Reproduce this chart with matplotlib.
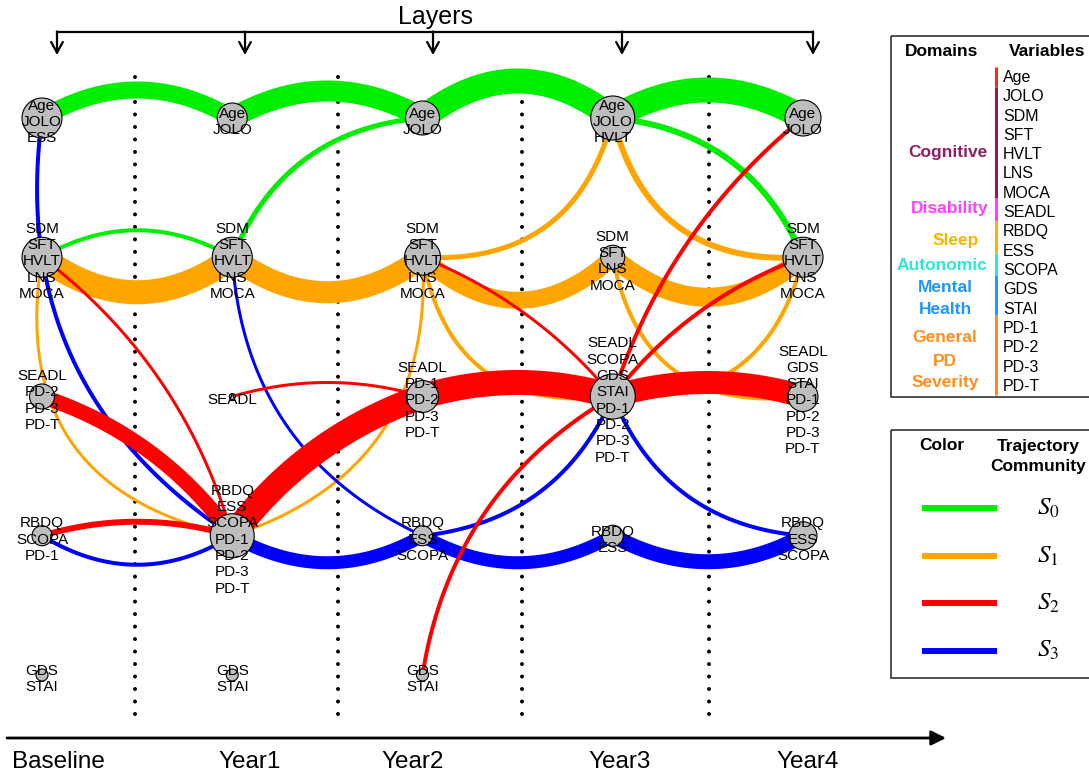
import numpy as np
import matplotlib.pyplot as plt
from matplotlib.patches import Rectangle

plt.rcParams['font.family'] = ['Liberation Sans', 'DejaVu Sans']
plt.rcParams['mathtext.fontset'] = 'stix'

# time layers and trajectory communities
layer_names = ['Baseline', 'Year1', 'Year2', 'Year3', 'Year4']
community_names = ['$S_0$', '$S_1$', '$S_2$', '$S_3$']
community_colors = ['#00ee00', '#ffa500', '#ff0000', '#0000ff']

# nodes: layer index, row index, size and the variables grouped in each node
node_layer = [0, 0, 0, 0, 0, 1, 1, 1, 1, 1, 2, 2, 2, 2, 2, 3, 3, 3, 3, 4, 4, 4, 4]
node_row = [0, 1, 2, 3, 4, 0, 1, 2, 3, 4, 0, 1, 2, 3, 4, 0, 1, 2, 3, 0, 1, 2, 3]
node_size = [20, 20, 12.5, 10, 6, 15, 20, 3, 22, 6, 17, 18, 16, 10, 6,
             22, 12, 22.5, 10.5, 18, 20, 15, 14]
node_vars = [
    ['Age', 'JOLO', 'ESS'],
    ['SDM', 'SFT', 'HVLT', 'LNS', 'MOCA'],
    ['SEADL', 'PD-2', 'PD-3', 'PD-T'],
    ['RBDQ', 'SCOPA', 'PD-1'],
    ['GDS', 'STAI'],
    ['Age', 'JOLO'],
    ['SDM', 'SFT', 'HVLT', 'LNS', 'MOCA'],
    ['SEADL'],
    ['RBDQ', 'ESS', 'SCOPA', 'PD-1', 'PD-2', 'PD-3', 'PD-T'],
    ['GDS', 'STAI'],
    ['Age', 'JOLO'],
    ['SDM', 'SFT', 'HVLT', 'LNS', 'MOCA'],
    ['SEADL', 'PD-1', 'PD-2', 'PD-3', 'PD-T'],
    ['RBDQ', 'ESS', 'SCOPA'],
    ['GDS', 'STAI'],
    ['Age', 'JOLO', 'HVLT'],
    ['SDM', 'SFT', 'LNS', 'MOCA'],
    ['SEADL', 'SCOPA', 'GDS', 'STAI', 'PD-1', 'PD-2', 'PD-3', 'PD-T'],
    ['RBDQ', 'ESS'],
    ['Age', 'JOLO'],
    ['SDM', 'SFT', 'HVLT', 'LNS', 'MOCA'],
    ['SEADL', 'GDS', 'STAI', 'PD-1', 'PD-2', 'PD-3', 'PD-T'],
    ['RBDQ', 'ESS', 'SCOPA'],
]

# edges between nodes (layer, row), community and weight
edge_from = [(0, 0), (1, 0), (2, 0), (3, 0), (0, 1), (1, 1), (3, 0),
             (0, 1), (1, 1), (2, 1), (3, 1), (0, 1), (1, 3), (2, 1), (3, 0),
             (2, 1), (3, 1), (3, 2), (2, 2), (3, 2),
             (0, 0), (0, 3), (1, 1), (1, 3), (2, 3), (3, 3), (2, 3), (3, 2),
             (0, 2), (0, 1), (0, 3), (1, 2), (1, 3), (2, 2), (3, 2), (2, 1),
             (2, 4), (3, 2), (3, 2)]
edge_to = [(1, 0), (2, 0), (3, 0), (4, 0), (1, 1), (2, 0), (4, 1),
           (1, 1), (2, 1), (3, 1), (4, 1), (1, 3), (2, 1), (3, 0), (4, 1),
           (3, 2), (4, 2), (4, 1), (3, 2), (4, 2),
           (1, 3), (1, 3), (2, 3), (2, 3), (3, 3), (4, 3), (3, 2), (4, 3),
           (1, 3), (1, 3), (1, 3), (2, 2), (2, 2), (3, 2), (4, 2), (3, 2),
           (3, 2), (4, 0), (4, 1)]
edge_comm = [0, 0, 0, 0, 0, 0, 0,
             1, 1, 1, 1, 1, 1, 1, 1, 1, 1, 1, 1, 1,
             3, 3, 3, 3, 3, 3, 3, 3,
             2, 2, 2, 2, 2, 2, 2, 2, 2, 2, 2]
edge_weight = [17, 21, 25, 25, 4, 5, 6,
               24, 22, 17, 19, 3, 3, 5, 6, 4, 4, 4, 4, 4,
               4, 4, 3, 13, 13, 15, 4, 4,
               15, 3, 6, 3, 25, 25, 23, 3, 4, 4, 4]
# arc sag of each edge (pixels, positive = bulge to the left of travel)
edge_bend = [28, 27, 37, 28, 27, 36, 35,
             -35, -35, -43, -40, -80, -65, -48, -49, -55, -55, -50, 9, 9,
             -72, -29, -50, -27, -27, -26, -34, -36,
             19, 28, 14, 14, 18, 14, 14, 15, 40, 25, 17]

# layout: pixels per layer / row and origin of layer 0, row 0
W, H = 1089, 774
X0, Y0, DX, DY = 42, 118, 190.25, 139.25
divider_pos = [0.489, 1.556, 2.523, 3.506]

fig = plt.figure(figsize=(W / 100, H / 100), dpi=100)

# decoration layer in pixel units
deco = fig.add_axes([0, 0, 1, 1])
deco.set_xlim(0, W)
deco.set_ylim(H, 0)
deco.axis('off')

ax = fig.add_axes([0, 0, 1, 1])
ax.set_xlim(-X0 / DX, (W - X0) / DX)
ax.set_ylim((H - Y0) / DY, -Y0 / DY)
ax.axis('off')


def arc(p0, p1, h, n=100):
    # quadratic bezier in pixel space so the sag is isotropic
    ax0, ay0 = p0[0] * DX, p0[1] * DY
    bx, by = p1[0] * DX, p1[1] * DY
    dx, dy = bx - ax0, by - ay0
    L = np.hypot(dx, dy)
    nx, ny = dy / L, -dx / L
    cx = (ax0 + bx) / 2 + 2 * h * nx
    cy = (ay0 + by) / 2 + 2 * h * ny
    t = np.linspace(0, 1, n)
    x = (1 - t) ** 2 * ax0 + 2 * t * (1 - t) * cx + t ** 2 * bx
    y = (1 - t) ** 2 * ay0 + 2 * t * (1 - t) * cy + t ** 2 * by
    return x / DX, y / DY


# dotted layer dividers
for xd in divider_pos:
    ax.plot([xd, xd], [(77 - Y0) / DY, (716 - Y0) / DY], color='black',
            lw=2.9, linestyle=(0, (0.001, 3.1)), dash_capstyle='round', zorder=1)

# edges, drawn community by community
for c in [0, 1, 3, 2]:
    for a, b, cc, w, h in zip(edge_from, edge_to, edge_comm, edge_weight, edge_bend):
        if cc != c:
            continue
        xs, ys = arc(a, b, h)
        ax.plot(xs, ys, color=community_colors[c], lw=w * 0.72,
                solid_capstyle='butt', zorder=2)

# nodes
ax.scatter(node_layer, node_row, s=[(2 * r * 0.72) ** 2 for r in node_size],
           color='#bebebe', edgecolor='black', linewidths=0.8, zorder=5)

for lx, ry, names in zip(node_layer, node_row, node_vars):
    n = len(names)
    for i, name in enumerate(names):
        yy = ry + (2.5 + (i - (n - 1) / 2) * 16.3) / DY
        ax.text(lx, yy, name, ha='center', va='center_baseline',
                fontsize=11, zorder=6)

# "Layers" bracket at the top
deco.text(435, 17, 'Layers', ha='center', va='center', fontsize=18)
arrow_x = [57, 245, 433, 622, 813]
deco.plot([arrow_x[0], arrow_x[-1]], [32, 32], color='black', lw=1.6)
for xa in arrow_x:
    deco.annotate('', xy=(xa, 55), xytext=(xa, 31.5),
                  arrowprops=dict(arrowstyle='->,head_length=0.55,head_width=0.3',
                                  lw=1.6, color='black', shrinkA=0, shrinkB=0,
                                  mutation_scale=14))

# time axis at the bottom
deco.annotate('', xy=(946, 738), xytext=(7, 738),
              arrowprops=dict(arrowstyle='-|>', lw=2.0, color='black',
                              shrinkA=0, shrinkB=0, mutation_scale=22))
for name, xl in zip(layer_names, [58, 250, 413, 620, 808]):
    deco.text(xl, 762, name, ha='center', va='center', fontsize=17.5)

# legend: domains and variables
deco.add_patch(Rectangle((891, 36), 220, 361, fill=False, edgecolor='#333333', lw=1.2))
deco.text(942, 52, 'Domains', ha='center', va='center', fontsize=12.5, fontweight='bold')
deco.text(1047, 52, 'Variables', ha='center', va='center', fontsize=12.5, fontweight='bold')

variables = ['Age', 'JOLO', 'SDM', 'SFT', 'HVLT', 'LNS', 'MOCA', 'SEADL', 'RBDQ',
             'ESS', 'SCOPA', 'GDS', 'STAI', 'PD-1', 'PD-2', 'PD-3', 'PD-T']
for i, v in enumerate(variables):
    deco.text(1003, 76 + 19.3 * i, v, ha='left', va='center_baseline', fontsize=11.5)

domain_spans = [(67, 87, '#ff2a1a'), (87, 198, '#8b1a5c'), (198, 221, '#ff40ff'),
                (221, 253, '#f5b800'), (253, 275, '#2ee6d6'), (275, 315, '#1a9bff'),
                (315, 395, '#ff8c1a')]
for y0, y1, col in domain_spans:
    deco.plot([996, 996], [y0, y1], color=col, lw=2.2, solid_capstyle='butt')

domain_labels = [('Cognitive', 948, 153, '#8e1f5f'), ('Disability', 950, 208, '#ff40ff'),
                 ('Sleep', 956, 240, '#f7b500'), ('Autonomic', 942, 265, '#2ee6d6'),
                 ('Mental', 945, 288, '#1e96ff'), ('Health', 945, 309, '#1e96ff'),
                 ('General', 945, 338, '#ff8d20'), ('PD', 945, 361, '#ff8d20'),
                 ('Severity', 945, 383, '#ff8d20')]
for txt, xl, yl, col in domain_labels:
    deco.text(xl, yl, txt, ha='center', va='center', fontsize=12.5,
              fontweight='bold', color=col)

# legend: community colours
deco.add_patch(Rectangle((891, 430), 220, 248, fill=False, edgecolor='#333333', lw=1.2))
deco.text(942, 446, 'Color', ha='center', va='center', fontsize=12.5, fontweight='bold')
deco.text(1038, 446, 'Trajectory', ha='center', va='center', fontsize=12.5, fontweight='bold')
deco.text(1038, 467, 'Community', ha='center', va='center', fontsize=12.5, fontweight='bold')
for i, (name, col) in enumerate(zip(community_names, community_colors)):
    yl = 508 + 47.5 * i
    deco.plot([922, 997], [yl, yl], color=col, lw=4.3, solid_capstyle='butt')
    deco.text(1048, yl, name, ha='center', va='center', fontsize=18)

fig.savefig('out.png', dpi=100)
